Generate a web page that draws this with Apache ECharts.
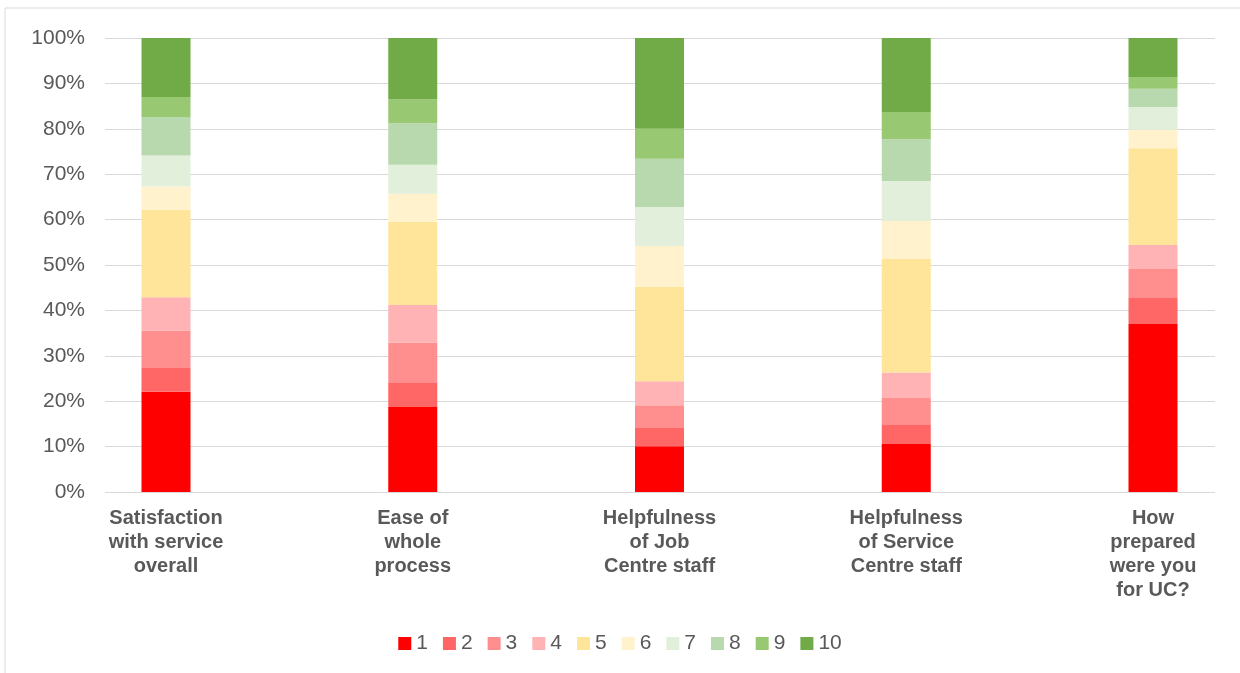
<!DOCTYPE html>
<html lang="en">
<head>
	<meta charset="UTF-8">
	<title>Scores</title>
	<script src="https://cdn.jsdelivr.net/npm/echarts@6/dist/echarts.min.js"></script>
	<style>
		* {
			margin: 0;
			padding: 0;
		}

		#container {
			width: 1240px;
			height: 673px;
		}
	</style>
</head>
<body>
<div id="container"></div>
<script type="text/javascript">
	var categories = [
		'Satisfaction\nwith service\noverall',
		'Ease of\nwhole\nprocess',
		'Helpfulness\nof Job\nCentre staff',
		'Helpfulness\nof Service\nCentre staff',
		'How\nprepared\nwere you\nfor UC?'
	];
	var scoreNames = ['1', '2', '3', '4', '5', '6', '7', '8', '9', '10'];
	var yTicks = [0, 10, 20, 30, 40, 50, 60, 70, 80, 90, 100];

	// percentage of answers per score, one value per category
	var score1 = [22.1, 18.7, 10.1, 10.6, 37.0];
	var score2 = [5.2, 5.5, 4.0, 4.3, 5.9];
	var score3 = [8.3, 8.7, 5.0, 5.8, 6.2];
	var score4 = [7.3, 8.3, 5.3, 5.6, 5.3];
	var score5 = [19.2, 18.3, 20.8, 25.1, 21.3];
	var score6 = [5.2, 6.2, 9.0, 8.3, 4.1];
	var score7 = [6.8, 6.4, 8.6, 8.8, 5.0];
	var score8 = [8.5, 9.1, 10.6, 9.2, 4.0];
	var score9 = [4.4, 5.3, 6.6, 6.0, 2.6];
	var score10 = [13.0, 13.5, 20.0, 16.3, 8.6];

	var allScores = [score1, score2, score3, score4, score5, score6, score7, score8, score9, score10];
	var colors = ['#ff0000', '#ff6666', '#ff8f8f', '#ffb3b5', '#ffe599',
		'#fff2cc', '#e2efda', '#b8d8ae', '#98c872', '#70ab47'];

	var myChart = echarts.init(document.getElementById('container'));

	var series = [];
	for (var i = 0; i < scoreNames.length; i++) {
		series.push({
			name: scoreNames[i],
			type: 'bar',
			stack: 'total',
			xAxisIndex: 1,
			yAxisIndex: 1,
			barWidth: 49,
			clip: false,
			itemStyle: {color: colors[i]},
			data: allScores[i]
		});
	}

	var textColor = '#595959';
	var font = 'Liberation Sans, Arial, sans-serif';

	var option = {
		animation: false,
		color: colors,
		graphic: [{
			type: 'rect',
			shape: {x: 5, y: 8, width: 1300, height: 700},
			style: {fill: 'none', stroke: '#d9d9d9', lineWidth: 1},
			silent: true
		}],
		legend: {
			top: 628,
			left: 'center',
			icon: 'rect',
			itemWidth: 13,
			itemHeight: 13,
			itemGap: 15,
			textStyle: {color: textColor, fontSize: 21, fontFamily: font},
			data: scoreNames
		},
		grid: [
			// gridlines + y labels, full width
			{left: 105, right: 25, top: 38, bottom: 181},
			// bars, tick positions at bar centres
			{left: 166, right: 87, top: 38, bottom: 181}
		],
		xAxis: [
			{gridIndex: 0, type: 'value', min: 0, max: 1, show: false},
			{
				gridIndex: 1,
				type: 'category',
				boundaryGap: false,
				data: categories,
				axisLine: {show: false},
				axisTick: {show: false},
				axisLabel: {
					interval: 0,
					margin: 14,
					color: textColor,
					fontSize: 20,
					fontWeight: 'bold',
					lineHeight: 24,
					fontFamily: font
				}
			}
		],
		yAxis: [
			{
				gridIndex: 0,
				type: 'value',
				min: yTicks[0],
				max: yTicks[yTicks.length - 1],
				interval: 10,
				axisLine: {show: false},
				axisTick: {show: false},
				splitLine: {lineStyle: {color: '#d9d9d9', width: 1}},
				axisLabel: {
					margin: 20,
					color: textColor,
					fontSize: 21,
					fontFamily: font,
					formatter: '{value}%'
				}
			},
			{
				gridIndex: 1,
				type: 'value',
				min: 0,
				max: 100,
				show: false
			}
		],
		series: series
	};

	myChart.setOption(option);
</script>
</body>
</html>
